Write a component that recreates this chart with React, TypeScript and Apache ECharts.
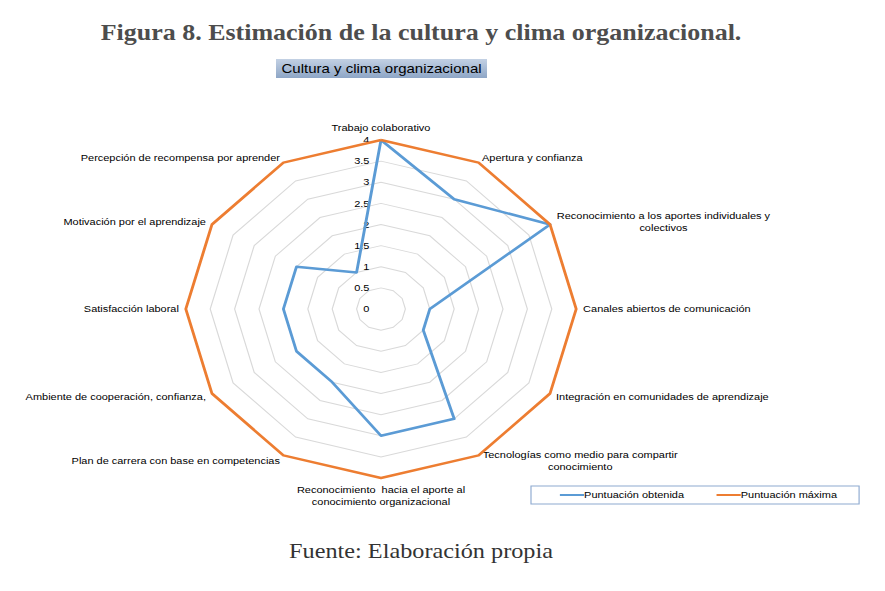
import { useEffect, useRef } from "react";
import * as echarts from "echarts";

// indicators in clockwise order starting at the top
const indicatorNames = [
  "Trabajo colaborativo",
  "Apertura y confianza",
  "Reconocimiento a los aportes individuales y\ncolectivos",
  "Canales abiertos de comunicación",
  "Integración en comunidades de aprendizaje",
  "Tecnologías como medio para compartir\nconocimiento",
  "Reconocimiento  hacia el aporte al\nconocimiento organizacional",
  "Plan de carrera con base en competencias",
  "Ambiente de cooperación, confianza,",
  "Satisfacción laboral",
  "Motivación por el aprendizaje",
  "Percepción de recompensa por aprender",
];
const obtained = [4, 3, 4, 1, 1, 3, 3, 2, 2, 2, 2, 1];
const maximum = [4, 4, 4, 4, 4, 4, 4, 4, 4, 4, 4, 4];
const seriesNames = ["Puntuación obtenida", "Puntuación máxima"];

const BLUE = "#5b9bd5";
const ORANGE = "#ed7d31";

// the original figure is stretched horizontally; draw narrower and scale the whole chart in x
const SX = 1.155;
const W = 885 / SX;
const px = (x: number) => x / SX;

// echarts lays radar indicators counter-clockwise, so flip the order after the first
const order = [0, ...indicatorNames.map((_, i) => i).slice(1).reverse()];
const pick = (arr: any[]) => order.map((i) => arr[i]);

// multi-line names keep their lines centred in a block of the first line's width
const blockWidth: Record<string, number> = {
  [indicatorNames[2]]: 186,
  [indicatorNames[5]]: 170,
};

export default function App() {
  const chartRef = useRef<HTMLDivElement | null>(null);

  useEffect(() => {
    const el = chartRef.current;
    if (!el) return;
    const chart = echarts.init(el, null, { renderer: "svg" });

    chart.setOption({
      animation: false,
      backgroundColor: "#ffffff",
      textStyle: { fontFamily: "Liberation Sans" },
      legend: {
        data: seriesNames,
        left: px(531),
        top: 486,
        orient: "horizontal",
        icon: "rect",
        padding: [4, 19, 4, 25],
        itemGap: 28,
        itemWidth: 21,
        itemHeight: 2,
        borderColor: "#8eaad0",
        borderWidth: 1,
        borderRadius: 0,
        textStyle: { fontSize: 9.5, color: "#000", padding: [0, 0, 0, -5] },
      },
      radar: {
        center: [px(381), 309],
        radius: 169,
        startAngle: 90,
        splitNumber: 8,
        shape: "polygon",
        nameGap: 6,
        axisName: {
          color: "#000",
          fontSize: 9.5,
          fontFamily: "Liberation Sans",
          lineHeight: 12,
          formatter: (name: string) => {
            if (blockWidth[name]) {
              const key = blockWidth[name] === 186 ? "a" : "b";
              return name
                .split("\n")
                .map((l) => `{${key}|${l}}`)
                .join("\n");
            }
            return name;
          },
          rich: {
            a: { width: 186, align: "center", fontSize: 9.5, color: "#000", lineHeight: 12 },
            b: { width: 170, align: "center", fontSize: 9.5, color: "#000", lineHeight: 12 },
          },
        },
        splitLine: { lineStyle: { color: "#d9d9d9", width: 1 } },
        splitArea: { show: false },
        axisLine: { show: false },
        axisTick: { show: false },
        axisLabel: { show: false },
        indicator: pick(indicatorNames).map((name, i) =>
          i === 0
            ? {
                name,
                min: 0,
                max: 4,
                axisLabel: {
                  show: true,
                  color: "#000",
                  fontSize: 9.5,
                  margin: 10,
                  formatter: (v: number) => String(v),
                },
              }
            : { name, min: 0, max: 4 }
        ),
      },
      series: [
        {
          type: "radar",
          symbol: "none",
          data: [
            {
              name: seriesNames[0],
              value: pick(obtained),
              lineStyle: { color: BLUE, width: 2.5 },
              itemStyle: { color: BLUE },
            },
            {
              name: seriesNames[1],
              value: pick(maximum),
              lineStyle: { color: ORANGE, width: 2.5 },
              itemStyle: { color: ORANGE },
            },
          ],
        },
      ],
      graphic: [
        {
          type: "text",
          x: px(421),
          y: 21,
          style: {
            text: "Figura 8. Estimación de la cultura y clima organizacional.",
            fontFamily: "Liberation Serif",
            fontWeight: "bold",
            fontSize: 22.5,
            fill: "#4d4d4d",
            textAlign: "center",
          },
        },
        {
          type: "rect",
          shape: { x: px(276), y: 59, width: px(487) - px(276), height: 19 },
          style: {
            fill: new echarts.graphic.LinearGradient(0, 0, 0, 1, [
              { offset: 0, color: "#c3d1e4" },
              { offset: 1, color: "#8ea6c6" },
            ]),
          },
        },
        {
          type: "text",
          x: px(381.5),
          y: 62,
          style: {
            text: "Cultura y clima organizacional",
            fontFamily: "Liberation Sans",
            fontSize: 13,
            fill: "#000",
            textAlign: "center",
          },
        },
        {
          type: "text",
          x: px(421),
          y: 541,
          style: {
            text: "Fuente: Elaboración propia",
            fontFamily: "Liberation Serif",
            fontSize: 21,
            fill: "#333",
            textAlign: "center",
          },
        },
      ],
    });

    return () => chart.dispose();
  }, []);

  return (
    <div
      ref={chartRef}
      style={{
        position: "fixed",
        left: 0,
        top: 0,
        width: W,
        height: 591,
        transform: `scaleX(${SX})`,
        transformOrigin: "0 0",
      }}
    />
  );
}
